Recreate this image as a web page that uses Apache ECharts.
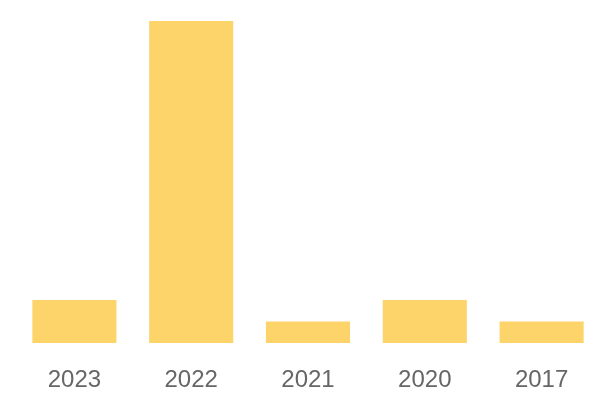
<!DOCTYPE html>
<html>
<head>
<meta charset="utf-8">
<script src="https://cdn.jsdelivr.net/npm/echarts@6/dist/echarts.min.js"></script>
<style>html,body{margin:0;padding:0;background:#fff;}#c{width:600px;height:400px;}</style>
</head>
<body>
<div id="c"></div>
<script>
const categories = ['2023', '2022', '2021', '2020', '2017'];
const values = [2, 15, 1, 2, 1];

const chart = echarts.init(document.getElementById('c'), null, {renderer: 'canvas'});
chart.setOption({
  animation: false,
  grid: {left: 16, right: 0, top: 21, bottom: 57, containLabel: false},
  xAxis: {
    type: 'category',
    data: categories,
    axisLine: {show: false},
    axisTick: {show: false},
    axisLabel: {color: '#666666', fontSize: 24, margin: 25, fontFamily: '"Liberation Sans", Arial, sans-serif'}
  },
  yAxis: {type: 'value', min: 0, max: 15, show: false, splitLine: {show: false}},
  series: [{
    type: 'bar',
    data: values,
    barCategoryGap: '28%',
    itemStyle: {color: '#FDD46A'}
  }]
});
</script>
</body>
</html>
